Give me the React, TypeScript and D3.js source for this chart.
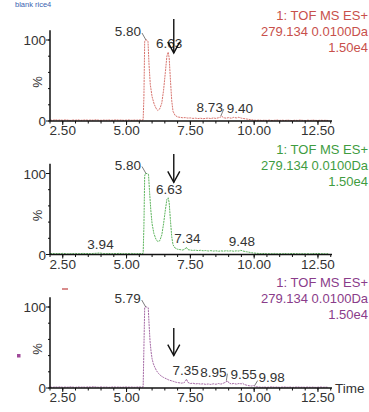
import React from "react";
import * as d3 from "d3";

const W = 369;
const H = 412;

const xTicks = [2.5, 5, 7.5, 10, 12.5];
const xTickLabels = ["2.50", "5.00", "7.50", "10.00", "12.50"];
const yTicks = [0, 100];
const yTickLabels = ["0", "100"];
const titleLines = ["1: TOF MS ES+", "279.134 0.0100Da", "1.50e4"];
const sampleName = "blank rice4";
const axisName = "Time";
const yName = "%";

const textColors = ["#c8504b", "#3f9c3f", "#8a3c8a"];
const lineColors = ["#d8746e", "#5db55d", "#a468a4"];

const redTrace: [number, number][] = [
  [2.0, 1.2], [2.1, 0.8], [2.2, 1.5], [2.3, 1.0], [2.4, 1.3], [2.5, 0.9], [2.6, 1.4], [2.7, 1.1],
  [2.8, 0.7], [2.9, 1.2], [3.0, 1.0], [3.1, 1.4], [3.2, 0.8], [3.3, 1.1], [3.4, 1.3], [3.5, 0.9],
  [3.6, 1.2], [3.7, 1.0], [3.8, 1.5], [3.9, 1.1], [4.0, 0.8], [4.1, 1.2], [4.2, 1.0], [4.3, 1.3],
  [4.4, 0.9], [4.5, 1.1], [4.6, 1.4], [4.7, 1.0], [4.8, 1.2], [4.9, 0.8], [5.0, 1.1], [5.1, 1.3],
  [5.2, 0.9], [5.3, 1.2], [5.4, 1.0], [5.5, 1.3], [5.6, 1.1], [5.65, 1.5], [5.68, 30], [5.71, 98],
  [5.74, 100], [5.8, 100], [5.84, 98], [5.88, 70], [5.93, 45], [6.0, 30], [6.08, 21], [6.15, 16],
  [6.22, 13], [6.3, 15], [6.38, 22], [6.45, 38], [6.52, 60], [6.58, 80], [6.63, 85], [6.67, 78],
  [6.72, 50], [6.77, 25], [6.82, 12], [6.9, 7], [7.0, 5], [7.1, 4.5], [7.2, 4], [7.3, 4.2],
  [7.4, 3.6], [7.5, 3.8], [7.6, 3.2], [7.7, 3.5], [7.8, 3.0], [7.9, 3.4], [8.0, 2.8], [8.1, 3.3],
  [8.2, 3.6], [8.3, 3.0], [8.4, 3.8], [8.5, 3.2], [8.6, 4.0], [8.67, 4.6], [8.73, 6], [8.8, 4.0],
  [8.9, 3.5], [9.0, 4.2], [9.1, 3.4], [9.2, 4.5], [9.3, 3.8], [9.4, 4.6], [9.5, 3.5], [9.6, 3.0],
  [9.7, 2.5], [9.8, 2.0], [9.9, 1.5], [10.0, 1.0], [10.1, 0.8], [10.2, 1.2], [10.3, 0.6], [10.4, 1.0],
  [10.5, 0.7], [10.6, 1.1], [10.7, 0.6], [10.8, 0.9], [10.9, 1.2], [11.0, 0.7], [11.1, 1.0], [11.2, 0.6],
  [11.3, 1.1], [11.4, 0.8], [11.5, 0.5], [11.6, 1.0], [11.7, 0.7], [11.8, 1.2], [11.9, 0.8], [12.0, 0.6],
  [12.1, 1.0], [12.2, 0.7], [12.3, 1.1], [12.4, 0.8], [12.5, 0.6], [12.6, 1.0], [12.7, 0.7], [12.8, 0.9],
  [12.9, 0.6],
];

const greenTrace: [number, number][] = [
  [2.0, 1.0], [2.1, 1.3], [2.2, 0.9], [2.3, 1.2], [2.4, 1.0], [2.5, 1.4], [2.6, 1.1], [2.7, 0.8],
  [2.8, 1.2], [2.9, 1.0], [3.0, 1.3], [3.1, 0.9], [3.2, 1.1], [3.3, 1.4], [3.4, 1.0], [3.5, 1.2],
  [3.6, 0.9], [3.7, 1.3], [3.8, 1.5], [3.88, 1.7], [3.94, 1.9], [4.0, 1.6], [4.1, 1.2], [4.2, 1.0],
  [4.3, 1.3], [4.4, 0.9], [4.5, 1.2], [4.6, 1.0], [4.7, 1.4], [4.8, 1.1], [4.9, 0.9], [5.0, 1.2],
  [5.1, 1.0], [5.2, 1.3], [5.3, 1.1], [5.4, 0.9], [5.5, 1.2], [5.6, 1.0], [5.65, 1.4], [5.68, 35],
  [5.71, 97], [5.74, 100], [5.8, 100], [5.86, 99], [5.9, 78], [5.95, 55], [6.0, 38], [6.07, 26],
  [6.15, 19], [6.22, 16], [6.3, 17], [6.38, 24], [6.45, 38], [6.52, 55], [6.58, 68], [6.63, 70],
  [6.67, 64], [6.72, 42], [6.77, 22], [6.82, 12], [6.9, 8], [7.0, 6.5], [7.1, 6], [7.2, 5.5],
  [7.28, 6.5], [7.34, 9], [7.4, 6], [7.5, 5.5], [7.6, 5], [7.7, 5.4], [7.8, 4.8], [7.9, 5.2],
  [8.0, 4.6], [8.1, 4.9], [8.2, 4.3], [8.3, 4.8], [8.4, 4.2], [8.5, 4.6], [8.6, 4.0], [8.7, 4.5],
  [8.8, 4.1], [8.9, 4.7], [9.0, 4.2], [9.1, 4.6], [9.2, 4.0], [9.3, 4.5], [9.4, 4.3], [9.48, 5.2],
  [9.55, 4.4], [9.6, 4.0], [9.7, 3.4], [9.8, 2.8], [9.9, 2.2], [10.0, 1.8], [10.1, 1.5], [10.2, 1.2],
  [10.3, 1.0], [10.4, 1.3], [10.5, 0.8], [10.6, 1.1], [10.7, 0.9], [10.8, 1.3], [10.9, 0.8], [11.0, 1.1],
  [11.1, 0.9], [11.2, 1.2], [11.3, 0.8], [11.4, 1.0], [11.5, 1.3], [11.6, 0.9], [11.7, 1.1], [11.8, 0.8],
  [11.9, 1.2], [12.0, 0.9], [12.1, 1.1], [12.2, 0.8], [12.3, 1.2], [12.4, 1.0], [12.5, 1.4], [12.6, 0.9],
  [12.7, 1.1], [12.8, 0.8], [12.9, 1.0],
];

const purpleTrace: [number, number][] = [
  [2.0, 1.1], [2.1, 0.8], [2.2, 1.3], [2.3, 1.0], [2.4, 1.4], [2.5, 0.9], [2.6, 1.2], [2.7, 1.0],
  [2.8, 1.5], [2.9, 1.1], [3.0, 0.8], [3.1, 1.3], [3.2, 1.0], [3.3, 1.2], [3.4, 0.9], [3.5, 1.4],
  [3.6, 1.1], [3.7, 1.6], [3.8, 1.2], [3.9, 0.9], [4.0, 1.3], [4.1, 1.0], [4.2, 1.2], [4.3, 0.8],
  [4.4, 1.1], [4.5, 1.3], [4.6, 1.0], [4.7, 1.2], [4.8, 0.9], [4.9, 1.1], [5.0, 1.3], [5.1, 1.0],
  [5.2, 1.2], [5.3, 0.9], [5.4, 1.1], [5.5, 1.3], [5.6, 1.0], [5.65, 1.5], [5.68, 50], [5.71, 99],
  [5.74, 100], [5.79, 100], [5.85, 99], [5.88, 80], [5.92, 58], [5.96, 45], [6.0, 36], [6.05, 30],
  [6.1, 26], [6.18, 21], [6.25, 18], [6.35, 15], [6.45, 13], [6.55, 11.5], [6.65, 10], [6.75, 9],
  [6.85, 8], [6.95, 7], [7.05, 6.5], [7.15, 6], [7.25, 6.5], [7.3, 8], [7.35, 11], [7.4, 7],
  [7.5, 5.5], [7.6, 6], [7.7, 5], [7.8, 5.5], [7.9, 4.8], [8.0, 5.2], [8.1, 4.5], [8.2, 5.0],
  [8.3, 4.4], [8.4, 5.2], [8.5, 4.6], [8.6, 5.5], [8.7, 4.8], [8.8, 6], [8.9, 7.5], [8.95, 9],
  [9.0, 6.5], [9.1, 5], [9.2, 5.6], [9.3, 4.8], [9.4, 5.5], [9.5, 5.2], [9.55, 6], [9.6, 4.5],
  [9.7, 3.5], [9.8, 2.8], [9.9, 2.5], [9.98, 3], [10.05, 2], [10.1, 1.5], [10.2, 1.2], [10.3, 0.9],
  [10.4, 1.2], [10.5, 0.8], [10.6, 1.1], [10.7, 1.4], [10.8, 0.9], [10.9, 1.2], [11.0, 0.8], [11.1, 1.1],
  [11.2, 1.3], [11.3, 0.9], [11.4, 1.2], [11.5, 0.8], [11.6, 1.0], [11.7, 1.3], [11.8, 0.9], [11.9, 1.1],
  [12.0, 0.8], [12.1, 1.2], [12.2, 0.9], [12.3, 1.1], [12.4, 0.8], [12.5, 1.0], [12.6, 1.2], [12.7, 0.9],
  [12.8, 1.1], [12.9, 0.8],
];

const redPeaks = ["5.80", "6.63", "8.73", "9.40"];
const greenPeaks = ["3.94", "5.80", "6.63", "7.34", "9.48"];
const purplePeaks = ["5.79", "7.35", "8.95", "9.55", "9.98"];

const redShift = [-19, 1, -12, 1];
const greenShift = [1, -19, 1, 1, 1];
const purpleShift = [-19, -1, -14, 1, 18];

const markerTime = 6.85;
const markerLevels: [number, number][] = [[126, 84], [124, 89], [74, 40]];

const traces = [redTrace, greenTrace, purpleTrace];
const peaks = [redPeaks, greenPeaks, purplePeaks];
const shifts = [redShift, greenShift, purpleShift];

const FONT = "'Liberation Sans', Arial, sans-serif";

function Panel({ i }: { i: number }) {
  const zeroY = 121 + 133.5 * i;
  const x = d3.scaleLinear().domain([2.0, 13.05]).range([50, 332]);
  const y = d3.scaleLinear().domain([0, 100]).range([zeroY, zeroY - 81]);
  const data = traces[i];
  const line = d3
    .line<[number, number]>()
    .x((d) => x(d[0]))
    .y((d) => y(d[1]));
  const minor = d3.range(2.0, 13.01, 0.5);
  const yMinor = d3.range(0, 111, 20);
  const [aTop, aTip] = markerLevels[i];
  const ax = x(markerTime);
  const tipY = y(aTip);
  return (
    <g>
      <path d={line(data) || ""} fill="none" stroke={lineColors[i]} strokeWidth={1} strokeDasharray="2 0.8" />
      <line x1={50} x2={50} y1={zeroY} y2={y(112)} stroke="#111" strokeWidth={1.5} />
      {yMinor.map((v) => (
        <line key={v} x1={48} x2={50} y1={y(v)} y2={y(v)} stroke="#111" strokeWidth={1} />
      ))}
      {yTicks.map((v, k) => (
        <g key={v}>
          <line x1={46} x2={50} y1={y(v)} y2={y(v)} stroke="#111" strokeWidth={1} />
          <text x={46} y={y(v) + 5} textAnchor="end" fontSize={13.5} fill="#333" fontFamily={FONT}>
            {yTickLabels[k]}
          </text>
        </g>
      ))}
      <text
        transform={`translate(${42},${zeroY - 39}) rotate(-90)`}
        textAnchor="middle"
        fontSize={13}
        fill="#333"
        fontFamily={FONT}
      >
        {yName}
      </text>
      <line x1={50} x2={332} y1={zeroY} y2={zeroY} stroke="#111" strokeWidth={1.5} />
      {minor.map((t) => (
        <line key={t} x1={x(t)} x2={x(t)} y1={zeroY} y2={zeroY + 2.5} stroke="#111" strokeWidth={1} />
      ))}
      {xTicks.map((t, k) => (
        <g key={t}>
          <line x1={x(t)} x2={x(t)} y1={zeroY} y2={zeroY + 4} stroke="#111" strokeWidth={1} />
          <text x={x(t)} y={zeroY + 14} textAnchor="middle" fontSize={13.5} fill="#333" fontFamily={FONT}>
            {xTickLabels[k]}
          </text>
        </g>
      ))}
      {i === 2 && (
        <text x={335} y={zeroY + 5} fontSize={13.5} fill="#333" fontFamily={FONT}>
          {axisName}
        </text>
      )}
      {titleLines.map((s, k) => (
        <text
          key={k}
          x={368}
          y={y(100) - 20 + k * 16}
          textAnchor="end"
          fontSize={13}
          fill={textColors[i]}
          fontFamily={FONT}
        >
          {s}
        </text>
      ))}
      {peaks[i].map((lab, k) => {
        const t = parseFloat(lab);
        const near = data.filter((d) => Math.abs(d[0] - t) <= 0.035);
        const v = d3.max(near, (d) => d[1]) ?? 0;
        const px = x(t);
        const py = y(v);
        const dx = shifts[i][k];
        const cx = px + dx;
        const by = py - 4;
        const half = 13;
        let leader = null;
        if (dx < -5) {
          leader = <line x1={cx + half + 1} y1={by - 3} x2={px - 1} y2={py} stroke="#444" strokeWidth={0.7} />;
        } else if (dx > 5) {
          leader = <line x1={cx - half - 1} y1={by - 1} x2={px + 1} y2={py} stroke="#444" strokeWidth={0.7} />;
        }
        return (
          <g key={lab}>
            {leader}
            <text x={cx} y={by} textAnchor="middle" fontSize={13.5} fill="#333" fontFamily={FONT}>
              {lab}
            </text>
          </g>
        );
      })}
      <line x1={ax} x2={ax} y1={y(aTop)} y2={tipY} stroke="#111" strokeWidth={1.4} />
      <polyline
        points={`${ax - 6},${tipY - 11} ${ax},${tipY} ${ax + 6},${tipY - 11}`}
        fill="none"
        stroke="#111"
        strokeWidth={1.4}
      />
    </g>
  );
}

export default function App() {
  return (
    <svg
      width={W}
      height={H}
      viewBox={`0 0 ${W} ${H}`}
      style={{ position: "absolute", left: 0, top: 0, background: "#fff" }}
    >
      <rect x={0} y={0} width={W} height={H} fill="#fff" />
      <text x={15} y={7} fontSize={7.5} fill="#3a5fb0" fontFamily={FONT}>
        {sampleName}
      </text>
      {[0, 1, 2].map((i) => (
        <Panel key={i} i={i} />
      ))}
      <line x1={62} x2={68} y1={289} y2={289} stroke="#c04040" strokeWidth={1.2} />
      <rect x={17} y={354} width={3.5} height={3.5} fill="#a04a9a" />
    </svg>
  );
}
